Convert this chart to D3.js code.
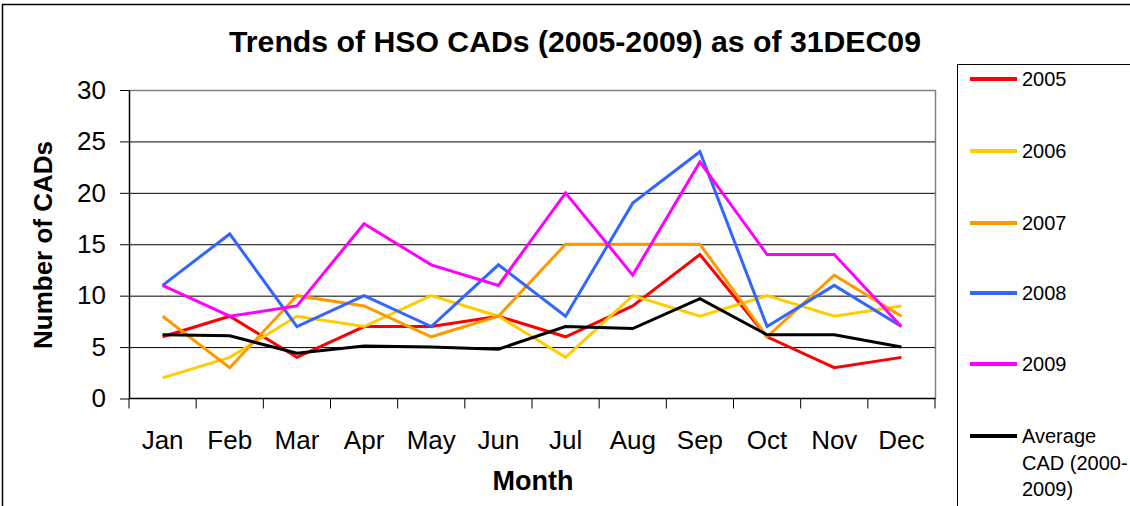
<!DOCTYPE html>
<html>
<head>
<meta charset="utf-8">
<script src="https://cdn.jsdelivr.net/npm/d3@7"></script>
<style>
  html, body { margin: 0; padding: 0; background: #fff; }
  svg { display: block; font-family: Arial, "Liberation Sans", sans-serif; }
</style>
</head>
<body>
<svg id="chart" width="1130" height="506"></svg>
<script>
const months = ["Jan","Feb","Mar","Apr","May","Jun","Jul","Aug","Sep","Oct","Nov","Dec"];
const seriesNames = ["2005","2006","2007","2008","2009","Average CAD (2000-2009)"];
const seriesColors = ["#FF0000","#FFCC00","#FF9900","#3366FF","#FF00FF","#000000"];
const v2005 = [6, 8, 4, 7, 7, 8, 6, 9, 14, 6, 3, 4];
const v2006 = [2, 4, 8, 7, 10, 8, 4, 10, 8, 10, 8, 9];
const v2007 = [8, 3, 10, 9, 6, 8, 15, 15, 15, 6, 12, 8];
const v2008 = [11, 16, 7, 10, 7, 13, 8, 19, 24, 7, 11, 7];
const v2009 = [11, 8, 9, 17, 13, 11, 20, 12, 23, 14, 14, 7];
const vAvg  = [6.2, 6.1, 4.4, 5.1, 5.0, 4.8, 7.0, 6.8, 9.7, 6.2, 6.2, 5.0];
const yTicks = [0, 5, 10, 15, 20, 25, 30];
const legendLines = [["2005"],["2006"],["2007"],["2008"],["2009"],["Average","CAD (2000-","2009)"]];

const seriesValues = [v2005, v2006, v2007, v2008, v2009, vAvg];

const svg = d3.select("#chart");
const plot = { left: 129, right: 935, top: 90, bottom: 398.5 };

// outer frame
svg.append("rect").attr("x", 2.5).attr("y", 4.5).attr("width", 1140).attr("height", 520)
  .attr("fill", "none").attr("stroke", "#000").attr("stroke-width", 1.5);

const x = d3.scaleBand().domain(months).range([plot.left, plot.right]).paddingInner(0).paddingOuter(0);
const y = d3.scaleLinear().domain([0, 30]).range([plot.bottom, plot.top]);
const cx = m => x(m) + x.bandwidth() / 2;

// gridlines
svg.append("g").selectAll("line").data(yTicks.filter(t => t > 0 && t < 30)).join("line")
  .attr("x1", plot.left).attr("x2", plot.right)
  .attr("y1", d => y(d) + 0.5).attr("y2", d => y(d) + 0.5)
  .attr("stroke", "#000").attr("stroke-width", 1);

// plot border (top/right grey)
svg.append("path")
  .attr("d", `M${plot.left},${y(30)+0.5}H${plot.right + 0.5}V${plot.bottom}`)
  .attr("fill", "none").attr("stroke", "#808080").attr("stroke-width", 1.5);

// y axis
const yAxis = svg.append("g").attr("transform", `translate(${plot.left},0)`)
  .call(d3.axisLeft(y).tickValues(yTicks).tickSize(9).tickPadding(14).tickSizeOuter(0));
yAxis.select(".domain").attr("stroke", "#000").attr("stroke-width", 1.5);
yAxis.selectAll(".tick line").attr("stroke", "#000").attr("stroke-width", 1);
yAxis.selectAll(".tick text").attr("font-size", 26).attr("fill", "#000")
  .attr("font-family", "Arial, 'Liberation Sans', sans-serif");

// x axis baseline
svg.append("line").attr("x1", plot.left).attr("x2", plot.right + 0.5)
  .attr("y1", plot.bottom).attr("y2", plot.bottom)
  .attr("stroke", "#000").attr("stroke-width", 1.5);
// x boundary ticks
const bounds = months.map(m => x(m)).concat([x.range()[1]]);
svg.append("g").selectAll("line").data(bounds).join("line")
  .attr("x1", d => d).attr("x2", d => d)
  .attr("y1", plot.bottom).attr("y2", plot.bottom + 10)
  .attr("stroke", "#000").attr("stroke-width", 1);
// x labels
const xAxis = svg.append("g").attr("transform", `translate(0,${plot.bottom})`)
  .call(d3.axisBottom(x).tickSize(0).tickPadding(32));
xAxis.select(".domain").remove();
xAxis.selectAll(".tick text").attr("font-size", 26).attr("fill", "#000")
  .attr("font-family", "Arial, 'Liberation Sans', sans-serif");

// series lines
const line = d3.line().x((d, i) => cx(months[i])).y(d => y(d));
svg.append("g").selectAll("path").data(seriesValues).join("path")
  .attr("d", d => line(d))
  .attr("fill", "none")
  .attr("stroke", (d, i) => seriesColors[i])
  .attr("stroke-width", 3)
  .attr("stroke-linejoin", "miter");

// title
const title = svg.append("text").attr("x", 575).attr("y", 52).attr("text-anchor", "middle")
  .attr("font-size", 29).attr("font-weight", "bold").attr("fill", "#000")
  .text("Trends of HSO CADs (2005-2009) as of 31DEC09");
const tw = title.node().getComputedTextLength();
if (tw > 0) title.attr("font-size", 29 * 692 / tw);

// axis titles
svg.append("text").attr("x", 533).attr("y", 490).attr("text-anchor", "middle")
  .attr("font-size", 27).attr("font-weight", "bold").attr("fill", "#000").text("Month");
svg.append("text").attr("transform", "translate(52,245) rotate(-90)").attr("text-anchor", "middle")
  .attr("font-size", 26).attr("font-weight", "bold").attr("fill", "#000").text("Number of CADs");

// legend
svg.append("rect").attr("x", 957.5).attr("y", 64.5).attr("width", 200).attr("height", 500)
  .attr("fill", "#fff").attr("stroke", "#000").attr("stroke-width", 1);
const legendY = [79, 151, 223, 293, 364, 436];
const lg = svg.append("g").selectAll("g").data(seriesNames).join("g")
  .attr("transform", (d, i) => `translate(0,${legendY[i]})`);
lg.append("line").attr("x1", 970).attr("x2", 1017).attr("y1", 0).attr("y2", 0)
  .attr("stroke", (d, i) => seriesColors[i]).attr("stroke-width", 4);
lg.append("text").attr("x", 1022).attr("y", 7).attr("font-size", 20).attr("fill", "#000")
  .each(function(d, i) {
    const t = d3.select(this);
    legendLines[i].forEach((s, k) => {
      t.append("tspan").attr("x", 1022).attr("dy", k === 0 ? 0 : 26.5).text(s);
    });
  });
</script>
</body>
</html>
